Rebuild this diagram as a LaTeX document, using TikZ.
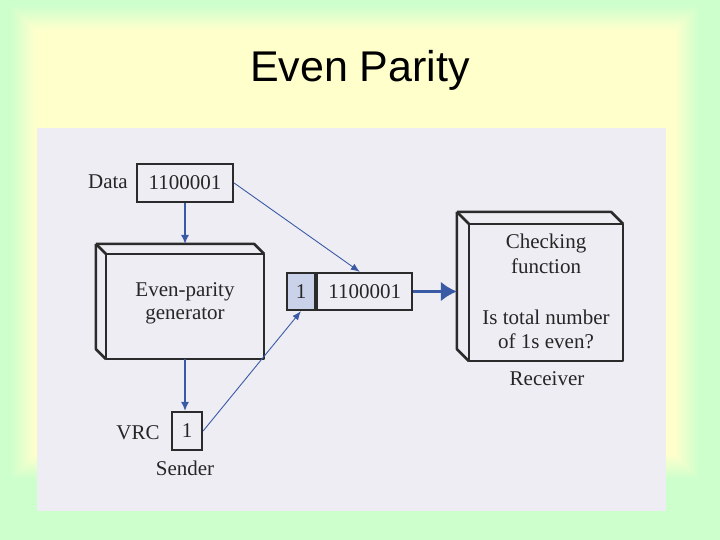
\documentclass[tikz,border=0pt]{standalone}
\usepackage{fontspec}
\setmainfont{Liberation Serif}
\newfontfamily\titlefont{Liberation Sans}
\usetikzlibrary{arrows.meta,calc}
\definecolor{bggreen}{HTML}{CCFFCC}
\definecolor{bgyellow}{HTML}{FFFFCC}
\definecolor{scanbg}{HTML}{EEEDF3}
\definecolor{boxline}{HTML}{2B2B2B}
\definecolor{arrowblue}{HTML}{3B5AA6}
\definecolor{bitfill}{HTML}{C9D2E8}
\begin{document}
\begin{tikzpicture}[x=1pt,y=-1pt,
  txt/.style={font=\fontsize{21}{24}\selectfont, inner sep=0pt, text=black!85},
  plainbox/.style={draw=boxline, line width=2.2pt, inner sep=0pt},
  boxedge/.style={draw=boxline, line width=2.6pt, line join=round},
  thinarrow/.style={draw=arrowblue, line width=0.9pt, -{Latex[length=9pt,width=7pt]}},
  downarrow/.style={draw=arrowblue, line width=1.3pt, -{Latex[length=9pt,width=8pt]}},
  thickarrow/.style={draw=arrowblue, line width=3.5pt, -{Latex[length=16pt,width=20pt]}}]
\useasboundingbox (0,0) rectangle (720,540);
% background
\fill[bggreen] (0,0) rectangle (720,540);
\foreach \i in {0,...,25}{
  \pgfmathtruncatemacro\p{\i*4}
  \fill[bgyellow!\p!bggreen] (10+\i,5+\i) rectangle (700-\i,480-\i);
}
\fill[scanbg] (37,128) rectangle (666,511);
% title
\node[font=\titlefont\fontsize{43}{50}\selectfont, anchor=base, inner sep=0pt] (title) at (360,82) {Even Parity};
% data
\node[plainbox, minimum width=96pt, minimum height=38pt] (data) at (185,183) {};
\node[txt] (datatext) at (185,183) {1100001};
\node[txt, anchor=east] (datalabel) at (128,182) {Data};
% generator
\node[plainbox, draw=none, minimum width=156pt, minimum height=103pt] (gen) at (185,306.5) {};
\draw[boxedge] (gen.north west) rectangle (gen.south east);
\draw[boxedge] ($(gen.north west)+(-10,-10)$) coordinate (gnw) -- ($(gen.north east)+(-10,-10)$) coordinate (gne) -- (gen.north east);
\draw[boxedge] (gnw) -- (gen.north west);
\draw[boxedge] (gnw) -- ($(gen.south west)+(-10,-10)$) -- (gen.south west);
\node[txt, align=center, font=\fontsize{21}{23}\selectfont] (gentext) at (185,303) {Even-parity\\generator};
% VRC
\node[plainbox, minimum width=30pt, minimum height=38pt] (vrc) at (187,431) {};
\node[txt] (vrctext) at (187,431) {1};
\node[txt] (vrclabel) at (138,433) {VRC};
\node[txt] (sender) at (185,468) {Sender};
% transmitted unit
\node[plainbox, fill=bitfill, minimum width=28pt, minimum height=37pt] (bit) at (301,291.5) {};
\node[plainbox, minimum width=95pt, minimum height=37pt, anchor=west] (unit) at (bit.east) {};
\node[txt] (bittext) at (bit.center) {1};
\node[txt] (unittext) at (unit.center) {1100001};
% receiver
\node[plainbox, draw=none, minimum width=152pt, minimum height=135pt] (rec) at (546,292.5) {};
\draw[boxedge] (rec.north west) rectangle (rec.south east);
\draw[boxedge] ($(rec.north west)+(-12,-12)$) coordinate (rnw) -- ($(rec.north east)+(-12,-12)$) -- (rec.north east);
\draw[boxedge] (rnw) -- (rec.north west);
\draw[boxedge] (rnw) -- ($(rec.south west)+(-12,-12)$) -- (rec.south west);
\node[txt, align=center, font=\fontsize{21}{25}\selectfont] (check) at (546,254) {Checking\\function};
\node[txt, align=center, font=\fontsize{21}{24}\selectfont] (question) at (546,329) {Is total number\\of 1s even?};
\node[txt] (receiver) at (547,379) {Receiver};
% connectors
\draw[downarrow] (data.south) -- (data.south |- gnw);
\draw[downarrow] (gen.south) -- (gen.south |- vrc.north);
\draw[thinarrow] (data.east) -- ($(unit.north west)!0.45!(unit.north east)$);
\draw[thinarrow] (vrc.east) -- (bit.south);
\draw[thickarrow] (unit.east) -- (rnw |- unit.east);
\end{tikzpicture}
\end{document}
